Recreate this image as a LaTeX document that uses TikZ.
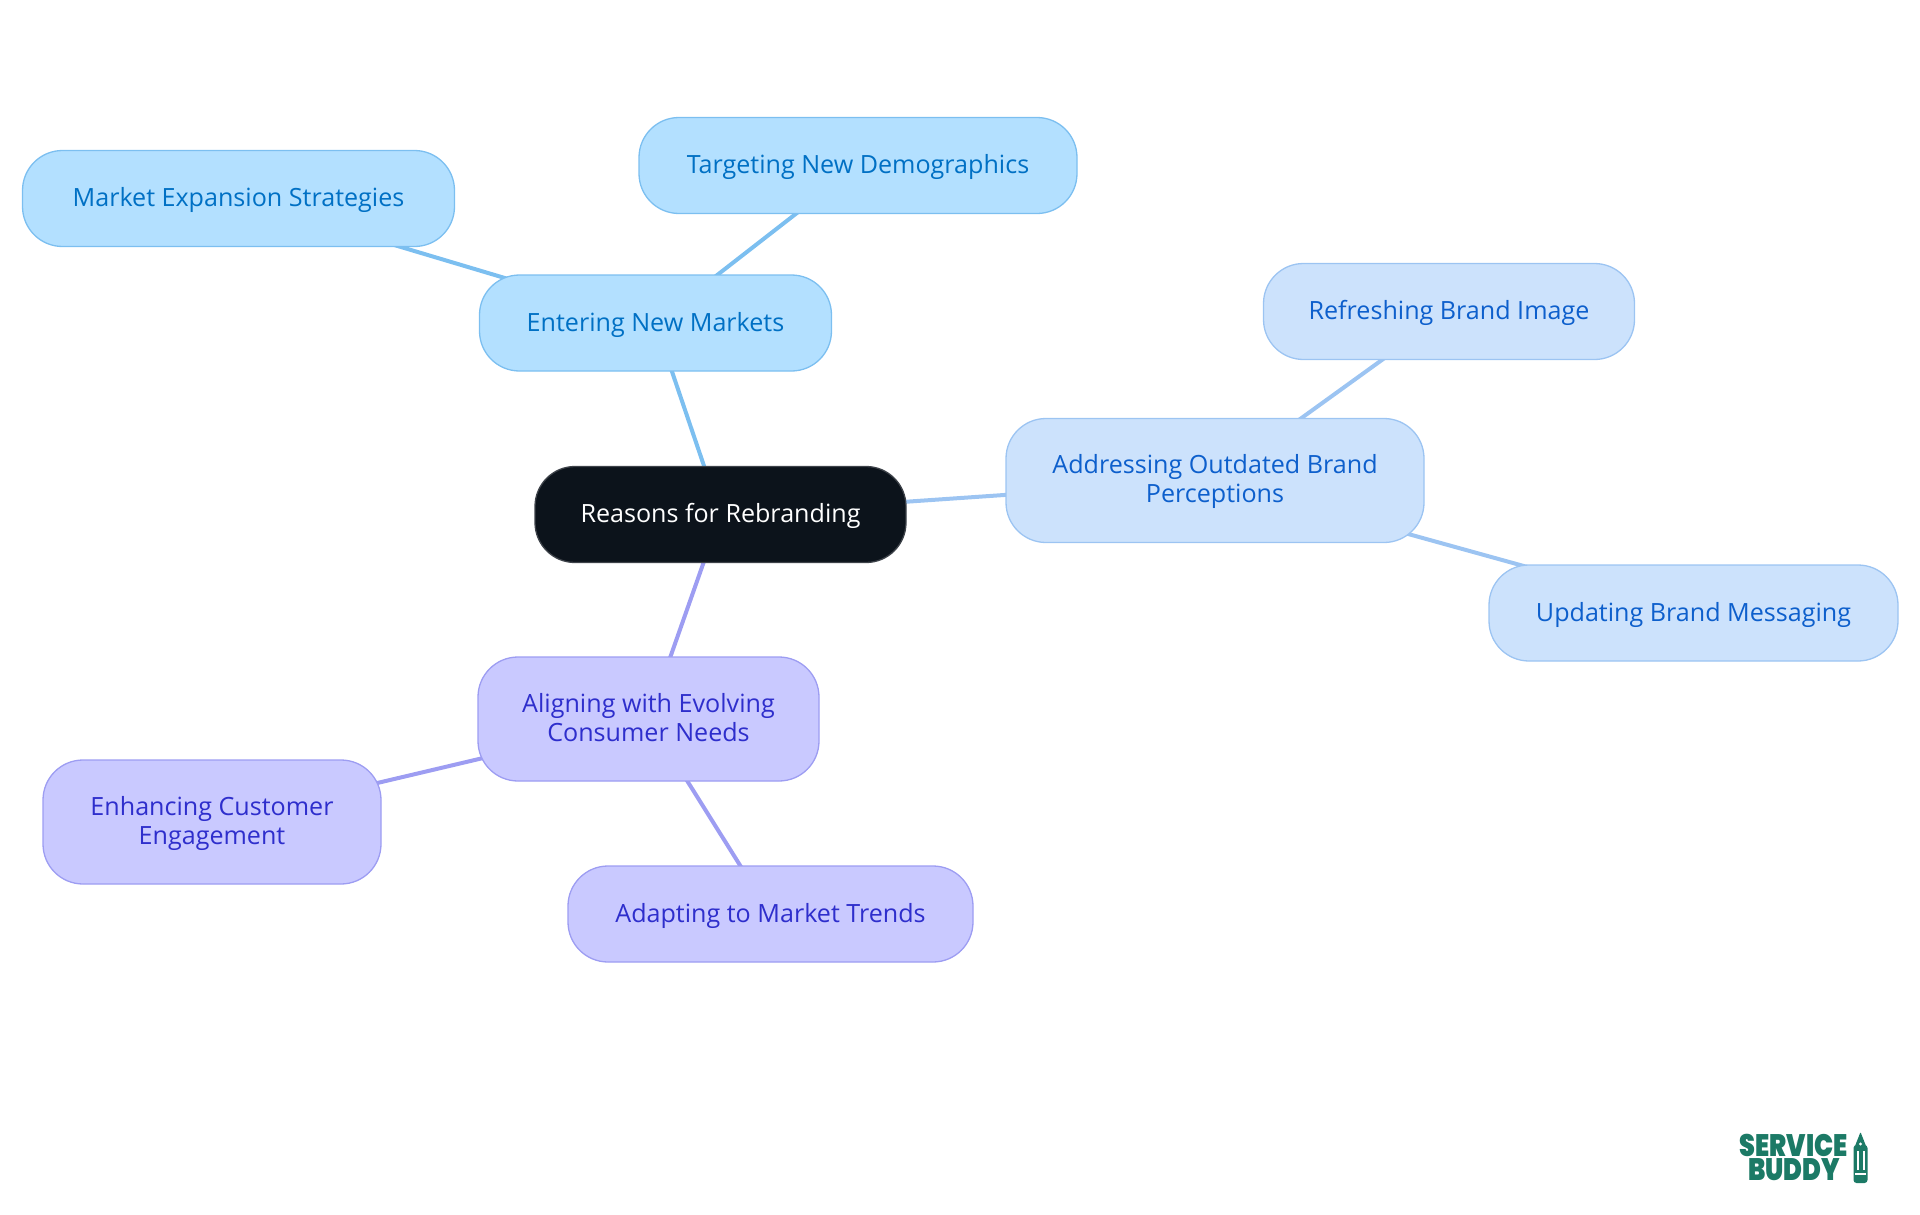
\documentclass[tikz,border=0pt]{standalone}
\usepackage{fontspec}
\setmainfont{Open Sans}
\newfontfamily\logofont{Poppins Black}
\usetikzlibrary{backgrounds}

\definecolor{rootfill}{HTML}{0C131B}
\definecolor{marketfill}{HTML}{B3E0FF}
\definecolor{marketline}{HTML}{7CBFF0}
\definecolor{markettext}{HTML}{0070C4}
\definecolor{brandfill}{HTML}{CCE2FC}
\definecolor{brandline}{HTML}{9CC4F2}
\definecolor{brandtext}{HTML}{0D5FCC}
\definecolor{needfill}{HTML}{C9C9FF}
\definecolor{needline}{HTML}{9D9DF2}
\definecolor{needtext}{HTML}{2E2ECC}
\definecolor{logogreen}{HTML}{1C7A66}

\tikzset{
  mapnode/.style={draw, rounded corners=40pt, line width=1.3pt, align=center, inner sep=0pt,
    text height=22pt, text depth=6pt, font=\fontsize{25.1}{29}\selectfont},
  twolines/.style={text height=50pt},
  rootnode/.style={mapnode, fill=rootfill, draw=rootfill!80!white, text=white},
  marketnode/.style={mapnode, fill=marketfill, draw=marketline, text=markettext},
  brandnode/.style={mapnode, fill=brandfill, draw=brandline, text=brandtext},
  neednode/.style={mapnode, fill=needfill, draw=needline, text=needtext},
  logotext/.style={text=logogreen, font=\logofont\fontsize{31}{31}\selectfont, inner sep=0pt, transform shape, xscale=0.82},
  link/.style={line width=4pt}
}

\begin{document}
\begin{tikzpicture}[x=1pt, y=-1pt]
  \useasboundingbox (0,0) rectangle (1920,1215);

  % Centre
  \node[rootnode, minimum width=371pt, minimum height=96pt] (root) at (720.5,514.5) {Reasons for Rebranding};

  % New markets
  \node[marketnode, minimum width=352pt, minimum height=96pt] (entering) at (655.5,323) {Entering New Markets};
  \node[marketnode, minimum width=432pt, minimum height=96pt] (expansion) at (238.5,198.5) {Market Expansion Strategies};
  \node[marketnode, minimum width=438pt, minimum height=96pt] (targeting) at (858,165.5) {Targeting New Demographics};

  % Brand perceptions
  \node[brandnode, twolines, minimum width=418pt, minimum height=124pt] (outdated) at (1215,480.5) {Addressing Outdated Brand\\Perceptions};
  \node[brandnode, minimum width=371pt, minimum height=96pt] (refreshing) at (1449,311.5) {Refreshing Brand Image};
  \node[brandnode, minimum width=409pt, minimum height=96pt] (messaging) at (1693.5,613) {Updating Brand Messaging};

  % Consumer needs
  \node[neednode, twolines, minimum width=341pt, minimum height=124pt] (aligning) at (648.5,719) {Aligning with Evolving\\Consumer Needs};
  \node[neednode, twolines, minimum width=338pt, minimum height=124pt] (enhancing) at (212,822) {Enhancing Customer\\Engagement};
  \node[neednode, minimum width=405pt, minimum height=96pt] (adapting) at (770.5,914) {Adapting to Market Trends};

  % Traits sous les noeuds
  \begin{scope}[on background layer]
    \draw[link, marketline] (root.center) -- (entering.center);
    \draw[link, marketline] (entering.center) -- (expansion.center);
    \draw[link, marketline] (entering.center) -- (targeting.center);
    \draw[link, brandline] (root.center) -- (outdated.center);
    \draw[link, brandline] (outdated.center) -- (refreshing.center);
    \draw[link, brandline] (outdated.center) -- (messaging.center);
    \draw[link, needline] (root.center) -- (aligning.center);
    \draw[link, needline] (aligning.center) -- (enhancing.center);
    \draw[link, needline] (aligning.center) -- (adapting.center);
  \end{scope}

  % Logo
  \node[logotext] (service) at (1793.5,1145) {SERVICE};
  \node[logotext] (buddy) at (1794,1170) {BUDDY};
  \fill[logogreen, rounded corners=1pt] (1860.5,1132) -- (1866,1146) -- (1866,1152) -- (1855,1152) -- (1855,1146) -- cycle;
  \fill[logogreen, rounded corners=3pt] (1853.5,1145) rectangle (1867.5,1183);
  \fill[white] (1856.5,1151) rectangle (1858.5,1170);
  \fill[white] (1862.5,1151) rectangle (1864.5,1170);
  \fill[white] (1855,1173) rectangle (1866,1174.5);
  \fill[white] (1860.5,1144) circle (1.6pt);
\end{tikzpicture}
\end{document}
